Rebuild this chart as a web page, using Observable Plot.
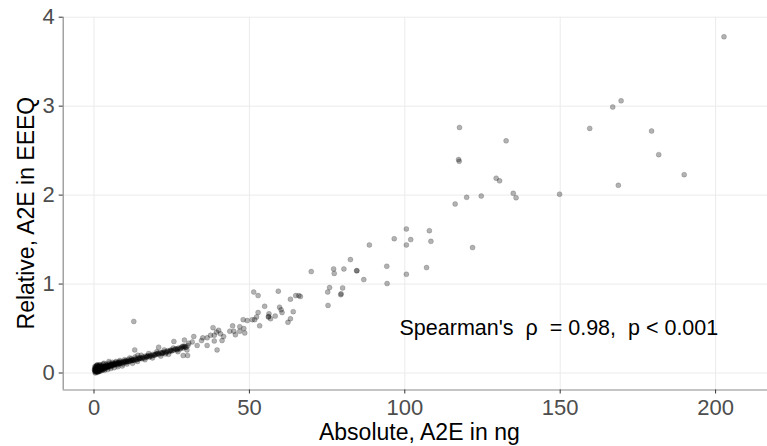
<!DOCTYPE html>
<html><head><meta charset="utf-8">
<script src="https://cdn.jsdelivr.net/npm/d3@7"></script>
<script src="https://cdn.jsdelivr.net/npm/@observablehq/plot@0.6"></script>
<style>body{margin:0;background:#fff} svg{display:block}</style>
</head><body><div id="chart"></div>
<script>
// Dense low-range band of samples (Absolute ng, Relative EEEQ)
const bandX = [0.2,0.3,0.4,0.5,0.6,0.7,0.8,0.9,1.0,1.1,1.2,1.3,1.4,1.5,1.6,1.7,1.8,1.9,2.0,2.1,2.2,2.3,2.4,2.5,2.6,2.7,2.8,2.9,3.0,3.1,3.2,3.3,3.5,3.6,3.8,4.0,4.1,4.3,4.5,4.6,4.8,4.9,5.1,5.3,5.5,5.6,5.8,6.0,6.2,6.4,6.6,6.8,7.0,7.2,7.4,7.6,7.8,8.0,8.2,8.5,8.8,9.0,9.3,9.6,9.9,10.2,10.5,10.8,11.0,11.4,11.7,12.0,12.3,12.6,13.0,13.4,13.8,14.2,14.6,15.0,15.4,15.8,16.2,16.6,17.0,17.4,17.8,18.2,18.6,19.0,19.5,20.0,20.4,20.9,21.3,21.8,22.3,22.8,23.2,23.7,24.2,24.7,25.2,25.7,26.2,26.7,27.2,27.7,28.2,28.7,29.2,29.7,30.2];
const bandY = [0.03,0.05,0.02,0.04,0.06,0.03,0.05,0.02,0.04,0.06,0.03,0.05,0.07,0.04,0.02,0.06,0.04,0.05,0.07,0.03,0.05,0.06,0.04,0.08,0.05,0.06,0.04,0.07,0.05,0.06,0.11,0.07,0.05,0.08,0.06,0.07,0.09,0.06,0.08,0.07,0.13,0.08,0.09,0.07,0.09,0.10,0.08,0.10,0.09,0.11,0.09,0.10,0.12,0.10,0.11,0.09,0.12,0.10,0.11,0.13,0.11,0.12,0.10,0.13,0.12,0.14,0.12,0.13,0.15,0.13,0.14,0.16,0.14,0.15,0.14,0.16,0.15,0.17,0.16,0.17,0.16,0.18,0.17,0.19,0.18,0.19,0.18,0.20,0.19,0.21,0.20,0.21,0.22,0.21,0.23,0.22,0.23,0.24,0.23,0.25,0.24,0.26,0.25,0.26,0.27,0.26,0.28,0.27,0.29,0.28,0.30,0.29,0.31];
// Further band samples lying along the upper and lower edges of the band
const edgeX = [0.25,0.45,0.65,0.85,1.05,1.25,1.45,1.65,1.85,2.05,2.35,2.65,2.95,3.4,3.9,4.4,4.9,5.4,5.9,6.5,7.1,7.7,8.3,9.1,9.8,10.6,11.5,12.4,13.2,14.0,15.2,16.4,17.6,18.8,20.2,21.5,22.6,24.0,25.5,27.0,28.5,29.9,0.35,0.55,0.75,0.95,1.15,1.35,1.55,1.75];
const edgeY = [0.07,0.00,0.08,0.01,0.09,0.01,0.08,0.02,0.09,0.02,0.09,0.03,0.10,0.03,0.10,0.04,0.11,0.05,0.12,0.06,0.13,0.07,0.14,0.08,0.15,0.10,0.17,0.11,0.18,0.13,0.20,0.15,0.22,0.17,0.24,0.19,0.26,0.21,0.28,0.24,0.30,0.26,0.01,0.07,0.02,0.08,0.01,0.07,0.03,0.09];
// Band samples lying close to the centre of the band
const coreX = [0.15,0.35,0.55,0.75,0.95,1.15,1.35,1.55,1.75,1.95,2.15,2.45,2.75,3.05,3.35,3.7,4.05,4.4,4.75,5.2,5.7,6.1,6.7,7.3,7.9,8.6,9.4,10.0,10.9,11.8,12.7,13.6,14.4,15.6,16.8,18.0,19.2,20.6,21.9,23.4,24.9,26.4,27.9,29.4,0.5,1.0,1.5,2.0,2.5,3.0,4.2,5.0,6.3,8.1,10.3,12.2,14.8,17.2,19.8,22.0,24.5,26.9,28.9];
const coreY = [0.04,0.03,0.05,0.04,0.03,0.05,0.04,0.06,0.05,0.04,0.06,0.05,0.07,0.06,0.07,0.06,0.08,0.07,0.08,0.08,0.09,0.09,0.10,0.10,0.11,0.11,0.12,0.13,0.13,0.14,0.15,0.15,0.16,0.17,0.18,0.19,0.20,0.22,0.23,0.24,0.25,0.27,0.28,0.29,0.02,0.06,0.03,0.05,0.06,0.04,0.08,0.09,0.10,0.12,0.13,0.14,0.17,0.19,0.21,0.22,0.25,0.27,0.30];
// Scattered samples
const scatterX = [1.0,12.8,13.1,14.1,20.8,23.0,25.7,29.1,30.5,28.7,30.1,31.6,32.1,33.2,34.6,35.0,36.4,36.4,37.5,38.3,38.7,38.7,39.4,39.6,40.1,40.7,41.2,41.7,43.7,44.6,45.0,45.5,46.9,46.9,48.2,48.5,48.0,49.3,50.9,51.7,52.3,53.3,51.4,52.8,59.3,63.2,64.9,65.9,54.9,59.7,60.2,60.5,52.8,64.1,56.3,56.1,56.2,56.8,58.3,63.2,62.4,66.4,69.9,75.3,75.2,75.8,77.1,77.3,79.4,79.5,80.0,80.4,82.5,84.5,84.6,86.8,88.6,94.2,94.3,96.6,100.5,100.5,100.5,101.9,107.0,107.9,108.4,116.2,117.3,117.5,117.6,119.9,121.8,124.6,129.4,130.5,132.6,134.9,135.8,149.8,159.5,166.9,168.7,169.6,179.4,181.7,189.9,202.7];
const scatterY = [0.09,0.58,0.26,0.20,0.29,0.215,0.355,0.37,0.335,0.197,0.197,0.35,0.41,0.31,0.365,0.395,0.395,0.31,0.425,0.51,0.425,0.36,0.46,0.26,0.48,0.44,0.365,0.41,0.47,0.53,0.47,0.43,0.52,0.47,0.50,0.45,0.60,0.59,0.60,0.60,0.63,0.53,0.91,0.87,0.92,0.83,0.87,0.87,0.75,0.74,0.71,0.68,0.68,0.69,0.665,0.63,0.635,0.61,0.64,0.61,0.57,0.86,1.14,0.76,0.91,0.96,1.17,1.12,0.88,0.89,0.957,1.17,1.275,1.15,1.15,1.05,1.44,1.20,1.005,1.51,1.62,1.44,1.11,1.50,1.185,1.60,1.48,1.90,2.40,2.38,2.76,1.975,1.41,1.99,2.19,2.16,2.61,2.02,1.97,2.01,2.75,2.99,2.11,3.06,2.72,2.455,2.23,3.78];

const xTicks = [0, 50, 100, 150, 200];
const yTicks = [0, 1, 2, 3, 4];
const xTitle = ["Absolute, A2E in ng"];
const yTitle = ["Relative, A2E in EEEQ"];
const annotation = ["Spearman's\u00a0\u00a0\u03c1\u00a0\u00a0= 0.98,\u00a0\u00a0p < 0.001"];
const annotationX = [98.3];
const annotationY = [0.43];

const points = bandX.map((x, i) => ({x, y: bandY[i]}))
  .concat(edgeX.map((x, i) => ({x, y: edgeY[i]})))
  .concat(coreX.map((x, i) => ({x, y: coreY[i]})))
  .concat(scatterX.map((x, i) => ({x, y: scatterY[i]})));

const xDom = [-9.91, 216.7];
const yDom = [-0.191, 4.0];

const plot = Plot.plot({
  width: 767, height: 446,
  marginLeft: 62.7, marginRight: 0, marginTop: 16.7, marginBottom: 56.5,
  style: {fontFamily: "'Liberation Sans', Arial, Helvetica, sans-serif", background: "#fff"},
  x: {domain: xDom},
  y: {domain: yDom},
  marks: [
    Plot.gridX(xTicks, {stroke: "#ebebeb", strokeOpacity: 1}),
    Plot.gridY(yTicks, {stroke: "#ebebeb", strokeOpacity: 1}),
    Plot.ruleX([xDom[0]], {stroke: "#8c8c8c", strokeWidth: 1.2}),
    Plot.ruleY([yDom[0]], {stroke: "#8c8c8c", strokeWidth: 1.2}),
    Plot.axisX(xTicks, {tickSize: 4, tickPadding: 5.5, fontSize: 22, stroke: "#333", fill: "#4d4d4d", label: null, tickFormat: d => String(d)}),
    Plot.axisY(yTicks, {tickSize: 4, tickPadding: 4.5, fontSize: 22, stroke: "#333", fill: "#4d4d4d", label: null, tickFormat: d => String(d)}),
    Plot.dot(points, {x: "x", y: "y", r: 2.5, fill: "black", fillOpacity: 0.3, stroke: "black", strokeOpacity: 0.2, strokeWidth: 0.8}),
    Plot.text(annotation, {x: () => annotationX[0], y: () => annotationY[0], textAnchor: "start", lineAnchor: "bottom", fontSize: 21.5, fill: "black"}),
    Plot.text(xTitle, {frameAnchor: "bottom", textAnchor: "middle", lineAnchor: "bottom", dy: 50, dx: 4, fontSize: 23, fill: "black"}),
    Plot.text(yTitle, {frameAnchor: "left", textAnchor: "middle", rotate: -90, lineAnchor: "bottom", dx: -29.7, dy: 9.5, fontSize: 23, fill: "black"})
  ]
});
document.getElementById("chart").appendChild(plot);
</script>
</body></html>
